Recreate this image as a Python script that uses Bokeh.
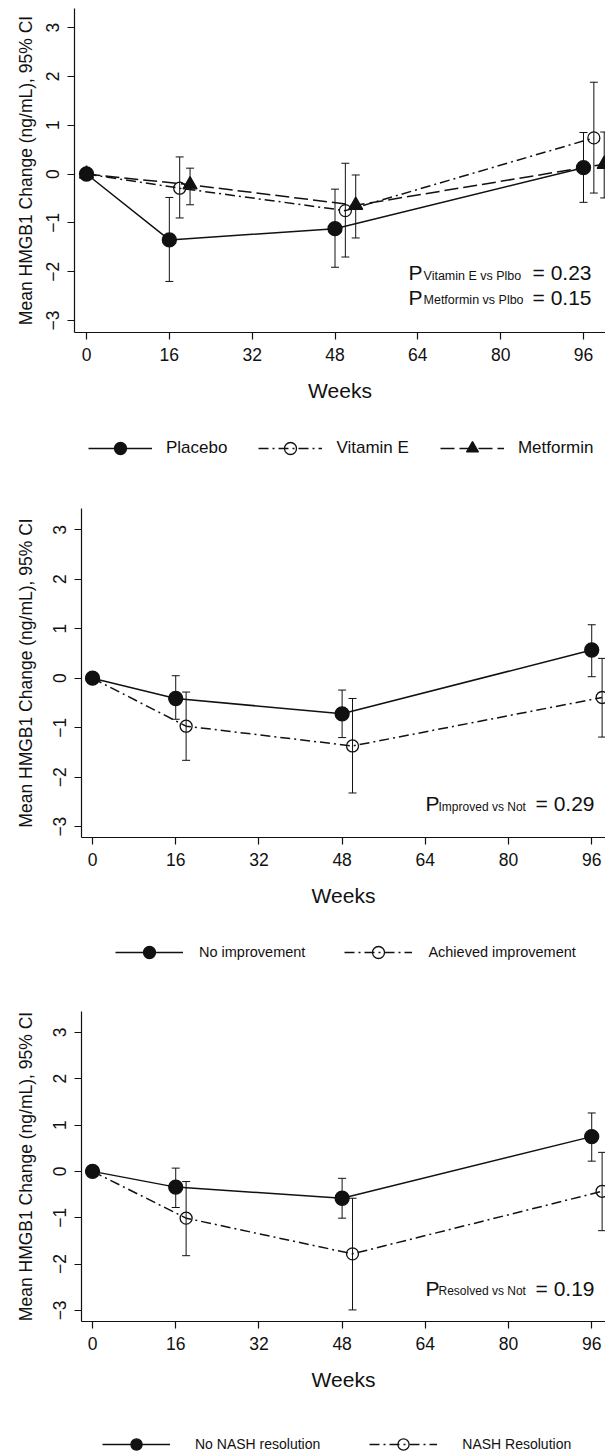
from bokeh.plotting import figure
from bokeh.models import (Range1d, FixedTicker, Whisker, TeeHead, ColumnDataSource,
                          Legend, LegendItem, Label)
from bokeh.embed import file_html
from bokeh.resources import INLINE

FONT = "Liberation Sans"
INK = "#111111"
NAN = float("nan")

# ---------------- data ----------------
WEEKS = [0, 16, 48, 96]
X_TICKS = [0, 16, 32, 48, 64, 80, 96]
Y_TICKS = [-3, -2, -1, 0, 1, 2, 3]
X_TITLE = "Weeks"
Y_TITLE = "Mean HMGB1 Change (ng/mL), 95% CI"

# Panel 1
P1_NAMES = ["Placebo", "Vitamin E", "Metformin"]
P1_PLACEBO = [0.00, -1.35, -1.12, 0.13]
P1_PLACEBO_LO = [None, -2.20, -1.91, -0.58]
P1_PLACEBO_HI = [None, -0.48, -0.31, 0.85]
P1_VITE = [0.00, -0.29, -0.75, 0.74]
P1_VITE_LO = [None, -0.90, -1.70, -0.39]
P1_VITE_HI = [None, 0.35, 0.22, 1.88]
P1_METF = [0.00, -0.22, -0.64, 0.20]
P1_METF_LO = [None, -0.63, -1.31, -0.49]
P1_METF_HI = [None, 0.12, -0.02, 0.86]
P1_PTEXT = [("Vitamin E vs Plbo", "0.23"), ("Metformin vs Plbo", "0.15")]

# Panel 2
P2_NAMES = ["No improvement", "Achieved improvement"]
P2_NOIMP = [0.00, -0.41, -0.72, 0.57]
P2_NOIMP_LO = [None, -0.83, -1.20, 0.03]
P2_NOIMP_HI = [None, 0.05, -0.24, 1.08]
P2_IMP = [0.00, -0.97, -1.37, -0.39]
P2_IMP_LO = [None, -1.66, -2.32, -1.19]
P2_IMP_HI = [None, -0.28, -0.41, 0.40]
P2_PTEXT = [("Improved vs Not", "0.29")]

# Panel 3
P3_NAMES = ["No NASH resolution", "NASH Resolution"]
P3_NONASH = [0.00, -0.34, -0.58, 0.75]
P3_NONASH_LO = [None, -0.78, -1.01, 0.22]
P3_NONASH_HI = [None, 0.07, -0.15, 1.26]
P3_NASH = [0.00, -1.01, -1.78, -0.43]
P3_NASH_LO = [None, -1.82, -2.99, -1.28]
P3_NASH_HI = [None, -0.22, -0.58, 0.41]
P3_PTEXT = [("Resolved vs Not", "0.19")]

# ---------------- styles ----------------
SOLID_FILLED = dict(marker="circle", filled=True, dash="solid", dodge=0.0, size=14)
DASHDOT_OPEN = dict(marker="circle", filled=False, dash="10 4 2 4", dodge=2.0, size=12)
DASHED_TRI = dict(marker="triangle", filled=True, dash="14 5", dodge=4.0, size=14)


def style_kw(st):
    return dict(line=dict(line_color=INK, line_width=1.5, line_dash=st["dash"]),
                marker=dict(marker=st["marker"], size=st["size"],
                            fill_color=INK if st["filled"] else None,
                            line_color=INK, line_width=1.3))


def make_panel(series, ptexts, cfg):
    p = figure(frame_width=cfg["fw"], frame_height=cfg["fh"],
               x_range=Range1d(*cfg["xr"]), y_range=Range1d(*cfg["yr"]),
               min_border_left=cfg["bl"], min_border_right=0,
               min_border_top=cfg["bt"], min_border_bottom=cfg["bb"],
               output_backend="svg", toolbar_location=None,
               background_fill_color="white", border_fill_color="white",
               outline_line_color=None)
    p.grid.visible = False

    for name, mean, lo, hi, st in series:
        kw = style_kw(st)
        xs = [w + st["dodge"] if w > 0 else w for w in WEEKS]
        p.line(xs, mean, **kw["line"])
        wx, wl, wh = [], [], []
        for x, l, h in zip(xs, lo, hi):
            if l is not None:
                wx.append(x); wl.append(l); wh.append(h)
        src = ColumnDataSource(dict(x=wx, lo=wl, hi=wh))
        p.add_layout(Whisker(source=src, base="x", lower="lo", upper="hi",
                             dimension="height", line_color=INK, line_width=1,
                             upper_head=TeeHead(size=8, line_color=INK, line_width=1),
                             lower_head=TeeHead(size=8, line_color=INK, line_width=1)))
        p.scatter(xs, mean, **kw["marker"])

    p.xaxis.ticker = FixedTicker(ticks=X_TICKS, minor_ticks=[])
    p.yaxis.ticker = FixedTicker(ticks=Y_TICKS, minor_ticks=[])
    p.axis.major_tick_in = 0
    p.axis.major_tick_out = 7
    p.axis.minor_tick_in = 0
    p.axis.minor_tick_out = 0
    p.axis.axis_line_color = INK
    p.axis.axis_line_width = 1.2
    p.axis.major_tick_line_color = INK
    p.axis.major_tick_line_width = 1.2
    p.axis.major_label_text_font = FONT
    p.axis.major_label_text_font_size = "17.5px"
    p.axis.major_label_text_color = INK
    p.axis.axis_label_text_font = FONT
    p.axis.axis_label_text_font_style = "normal"
    p.axis.axis_label_text_color = INK
    p.xaxis.axis_label = X_TITLE
    p.xaxis.axis_label_text_font_size = "21px"
    p.xaxis.major_label_standoff = 8
    p.xaxis.axis_label_standoff = 15
    p.yaxis.axis_label = Y_TITLE
    p.yaxis.axis_label_text_font_size = "17.5px"
    p.yaxis.major_label_orientation = "vertical"
    p.yaxis.major_label_standoff = cfg["yts"]
    p.yaxis.axis_label_standoff = cfg["yls"]

    px0, px1, px2 = cfg["pt_x"]
    for (sub, val), yb in zip(ptexts, cfg["pt_y"]):
        p.add_layout(Label(x=px0, y=yb, text="P", text_font=FONT, text_font_size="21px",
                           text_color=INK, text_align="left", text_baseline="alphabetic"))
        p.add_layout(Label(x=px1, y=yb, y_offset=-3, text=sub, text_font=FONT,
                           text_font_size=cfg["subf"], text_color=INK,
                           text_align="left", text_baseline="alphabetic"))
        p.add_layout(Label(x=px2, y=yb, text="= " + val, text_font=FONT,
                           text_font_size="21px", text_color=INK,
                           text_align="right", text_baseline="alphabetic"))
    return p


def make_legend(names, styles, cfg):
    p = figure(width=605, height=cfg["h"], x_range=Range1d(0, 1), y_range=Range1d(0, 1),
               min_border=0, output_backend="svg", toolbar_location=None,
               x_axis_location=None, y_axis_location=None,
               background_fill_color="white", border_fill_color="white",
               outline_line_color=None)
    p.grid.visible = False
    items = []
    for name, st in zip(names, styles):
        kw = style_kw(st)
        # key-only renderers: one undefined point, so only the legend glyph shows
        lr = p.line(x=[NAN, NAN], y=[NAN, NAN], **kw["line"])
        sr = p.scatter(x=[NAN], y=[NAN], **kw["marker"])
        items.append(LegendItem(label=name, renderers=[lr, sr]))
    leg = Legend(items=items, location=cfg["loc"], orientation="horizontal",
                 glyph_width=cfg["gw"], glyph_height=cfg["gh"], label_height=cfg["gh"],
                 label_standoff=cfg["ls"], spacing=cfg["sp"], padding=0, margin=0,
                 border_line_color=None, background_fill_alpha=0,
                 label_text_font=FONT, label_text_font_size=cfg["lf"],
                 label_text_color=INK)
    p.add_layout(leg, "center")
    return p


p1 = make_panel(
    [(P1_NAMES[0], P1_PLACEBO, P1_PLACEBO_LO, P1_PLACEBO_HI, SOLID_FILLED),
     (P1_NAMES[1], P1_VITE, P1_VITE_LO, P1_VITE_HI, DASHDOT_OPEN),
     (P1_NAMES[2], P1_METF, P1_METF_LO, P1_METF_HI, DASHED_TRI)],
    P1_PTEXT,
    dict(fw=531, fh=324, bl=74, bt=8, bb=76, xr=(-2.32, 100.25), yr=(-3.246, 3.39),
         pt_x=(62.2, 65.1, 97.55), pt_y=(-2.026, -2.52), yts=8, yls=8, subf="12.5px"))
l1 = make_legend(P1_NAMES, [SOLID_FILLED, DASHDOT_OPEN, DASHED_TRI],
                 dict(h=72, loc=(88, 17), gw=64, gh=30, ls=14, sp=31, lf="17px"))

p2 = make_panel(
    [(P2_NAMES[0], P2_NOIMP, P2_NOIMP_LO, P2_NOIMP_HI, SOLID_FILLED),
     (P2_NAMES[1], P2_IMP, P2_IMP_LO, P2_IMP_HI, DASHDOT_OPEN)],
    P2_PTEXT,
    dict(fw=524, fh=329, bl=81, bt=28, bb=76, xr=(-2.12, 98.65), yr=(-3.22, 3.43),
         pt_x=(64.04, 66.54, 96.54), pt_y=(-2.54,), yts=8, yls=15, subf="12px"))
l2 = make_legend(P2_NAMES, [SOLID_FILLED, DASHDOT_OPEN],
                 dict(h=72, loc=(115, 18), gw=68, gh=30, ls=16, sp=39, lf="14.5px"))

p3 = make_panel(
    [(P3_NAMES[0], P3_NONASH, P3_NONASH_LO, P3_NONASH_HI, SOLID_FILLED),
     (P3_NAMES[1], P3_NASH, P3_NASH_LO, P3_NASH_HI, DASHDOT_OPEN)],
    P3_PTEXT,
    dict(fw=524, fh=310, bl=81, bt=26, bb=76, xr=(-2.12, 98.65), yr=(-3.24, 3.45),
         pt_x=(64.04, 66.54, 96.54), pt_y=(-2.52,), yts=8, yls=15, subf="12px"))
l3 = make_legend(P3_NAMES, [SOLID_FILLED, DASHDOT_OPEN],
                 dict(h=57, loc=(102, -4), gw=68, gh=28, ls=25, sp=49, lf="14px"))

open("out.html", "w").write(file_html([p1, l1, p2, l2, p3, l3], INLINE))
